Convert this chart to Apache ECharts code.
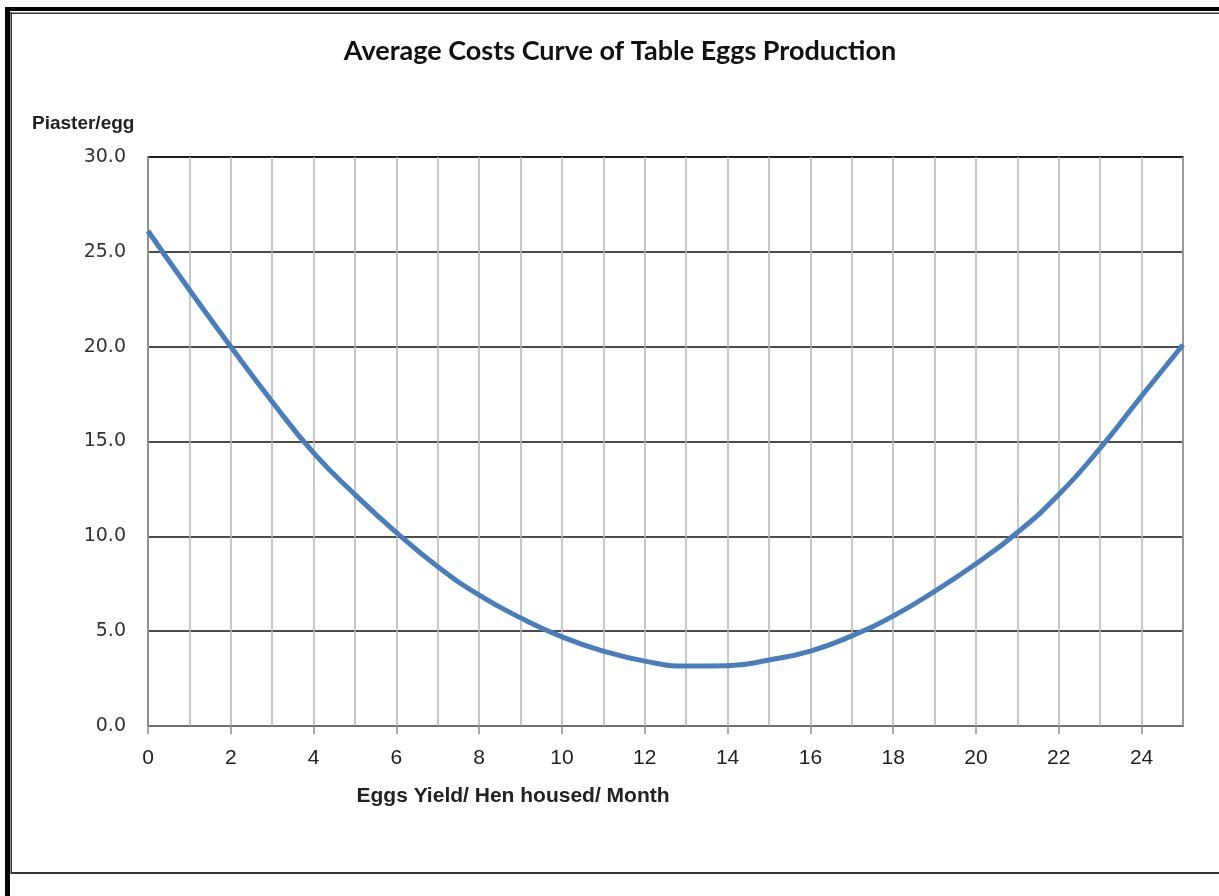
<!DOCTYPE html>
<html>
<head>
<meta charset="utf-8">
<script src="https://cdn.jsdelivr.net/npm/echarts@6/dist/echarts.min.js"></script>
<style>
  html, body { margin: 0; padding: 0; background: #fff; }
  #chart { width: 1219px; height: 896px; }
</style>
</head>
<body>
<div id="chart"></div>
<script>
// ---- data ----
const titleText = 'Average Costs Curve of Table Eggs Production';
const xAxisName = 'Eggs Yield/ Hen housed/ Month';
const yAxisName = 'Piaster/egg';
const eggsYield = [0, 1, 2, 3, 4, 5, 6, 7, 8, 9, 10, 11, 12, 13, 14, 15, 16, 17, 18, 19, 20, 21, 22, 23, 24, 25];
const avgCost   = [26.1, 23.0, 20.0, 17.1, 14.4, 12.2, 10.2, 8.4, 6.9, 5.7, 4.7, 3.95, 3.42, 3.16, 3.18, 3.48, 3.95, 4.75, 5.8, 7.1, 8.55, 10.2, 12.2, 14.65, 17.4, 20.1];
const xMin = 0, xMax = 25, xStep = 2;
const yMin = 0, yMax = 30, yStep = 5;

const seriesData = eggsYield.map((x, i) => [x, avgCost[i]]);

const chart = echarts.init(document.getElementById('chart'));
chart.setOption({
  animation: false,
  backgroundColor: '#ffffff',
  title: [
    {
      text: titleText,
      left: 615, top: 33, textAlign: 'center',
      textStyle: { fontFamily: 'Lato', fontWeight: 'bold', fontSize: 27, color: '#111' }
    },
    {
      text: yAxisName,
      left: 27, top: 109,
      textStyle: { fontFamily: 'Liberation Sans', fontWeight: 'bold', fontSize: 19, color: '#222' }
    },
    {
      text: xAxisName,
      left: 508, top: 781, textAlign: 'center',
      textStyle: { fontFamily: 'Liberation Sans', fontWeight: 'bold', fontSize: 21, color: '#222' }
    }
  ],
  graphic: [
    { type: 'rect', shape: { x: 5, y: 7, width: 5, height: 889 }, style: { fill: '#000' } },
    { type: 'rect', shape: { x: 5, y: 7, width: 1214, height: 4 }, style: { fill: '#000' } },
    { type: 'rect', shape: { x: 10, y: 12.5, width: 1209, height: 1.5 }, style: { fill: '#333' } },
    { type: 'rect', shape: { x: 10.5, y: 12.5, width: 1.5, height: 861 }, style: { fill: '#333' } },
    { type: 'rect', shape: { x: 10.5, y: 872, width: 1209, height: 2 }, style: { fill: '#333' } }
  ],
  grid: {
    left: 148, right: 36, top: 157, bottom: 170,
    show: true, borderColor: '#111', borderWidth: 1.5, backgroundColor: 'transparent'
  },
  xAxis: {
    type: 'value',
    min: xMin, max: xMax, interval: xStep,
    axisLine: { show: true, lineStyle: { color: '#8c8c8c', width: 1.5 } },
    axisTick: { show: true, length: 8, lineStyle: { color: '#8c8c8c', width: 1.5 } },
    axisLabel: {
      margin: 22, fontFamily: 'Liberation Sans', fontSize: 21, color: '#222',
      showMaxLabel: false
    },
    splitLine: { show: true, lineStyle: { color: '#b5b5b5', width: 1.5 } },
    minorTick: { show: false, splitNumber: 2 },
    minorSplitLine: { show: true, lineStyle: { color: '#b5b5b5', width: 1.5 } }
  },
  yAxis: {
    type: 'value',
    min: yMin, max: yMax, interval: yStep,
    axisLine: { show: true, lineStyle: { color: '#8c8c8c', width: 1.5 } },
    axisTick: { show: false },
    axisLabel: {
      margin: 22, fontFamily: 'DejaVu Sans', fontSize: 19, color: '#333',
      formatter: v => v.toFixed(1)
    },
    splitLine: { show: true, lineStyle: { color: '#111', width: 1.5 } }
  },
  series: [{
    type: 'line',
    data: seriesData,
    smooth: true,
    showSymbol: false,
    lineStyle: { color: '#4a7ebb', width: 5 },
    clip: false
  }]
});
</script>
</body>
</html>
